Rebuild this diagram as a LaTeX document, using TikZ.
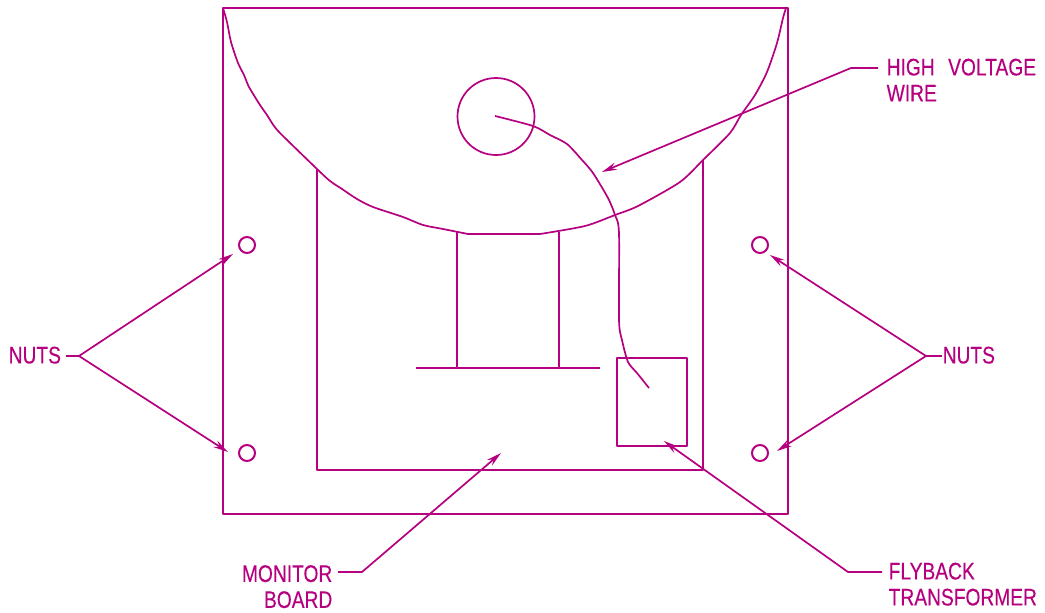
\documentclass[tikz,border=0pt]{standalone}
\usepackage{fontspec}
\setmainfont[FakeStretch=0.8,FakeBold=0.25]{Liberation Sans}
\usetikzlibrary{arrows.meta}
\definecolor{ink}{RGB}{181,0,127}
\tikzset{
  x=1pt,y=-1pt,
  stroke/.style={draw=ink,line width=2pt,line join=round},
  fine/.style={draw=ink,line width=1.7pt,line join=round},
  lbl/.style={inner sep=0pt,text=ink,font=\fontsize{24}{26}\selectfont},
  boxn/.style={stroke,inner sep=0pt,outer sep=0pt,anchor=north west},
  nut/.style={circle,stroke,minimum size=16pt,inner sep=0pt},
  big/.style={circle,fine,minimum size=77pt,inner sep=0pt},
  ptr/.style={fine,-{Stealth[length=15pt,width=7.500pt,inset=5pt]}},
}
\begin{document}
\begin{tikzpicture}
\useasboundingbox (0,0) rectangle (1045,613);
% housing
\node[boxn,minimum width=565pt,minimum height=506pt] (case) at (223,8) {};
% board
\draw[stroke] (317,169) -- (317,470) -- (703,470) -- (703,160);
% tube face
\draw[fine] plot[smooth,tension=0.45] coordinates {(223,8) (227,22) (231,42) (238,63) (244,75) (249,87) (260,105) (267,115) (274,126) (282,135) (317,169) (330,181) (342,189) (357,199) (373,207) (403,217) (423,225) (443,229) (468,234)} -- (540,234) -- plot[smooth,tension=0.45] coordinates {(540,234) (585,226) (615,215) (638,206) (680,182) (703,160) (730,133) (741,115) (755,95) (767,72) (777,43) (783,18) (786,8)};
% neck
\draw[stroke] (457,232) -- (457,368);
\draw[stroke] (559,232) -- (559,368);
\draw[stroke] (416,368) -- (600,368);
% flyback
\node[boxn,minimum width=70pt,minimum height=88pt] (fly) at (617,358) {};
% anode
\node[big] (anode) at (496,116.500) {};
% wire
\draw[fine] plot[smooth,tension=0.45] coordinates {(495,116) (533,126) (550,135) (567,144) (582,160) (593,173) (608,198) (615,215) (619,233) (619,320) (622,340) (628,362) (637,373) (649,388)};
% nuts
\node[nut] (n1) at (247,245) {};
\node[nut] (n2) at (247,453) {};
\node[nut] (n3) at (760,245) {};
\node[nut] (n4) at (760,453) {};
% labels
\node[lbl,anchor=north west] (lnuts) at (8.500,346.500) {NUTS};
\node[lbl,anchor=north west] (rnuts) at (942.500,346.500) {NUTS};
\node[lbl,anchor=north west,align=left] (hv) at (886.500,58.500) {HIGH\hspace{13.500pt}VOLTAGE\\WIRE};
\node[lbl,anchor=north east,align=right] (mb) at (332.500,565) {MONITOR\\BOARD};
\node[lbl,anchor=north west,align=left] (fb) at (888.500,562.500) {FLYBACK\\TRANSFORMER};
% leader junctions and targets
\coordinate (jl) at (79,356);
\coordinate (jr) at (926,356);
\coordinate (jh) at (851,68);
\coordinate (jm) at (362,572);
\coordinate (jf) at (848,572);
\coordinate (th) at (602,172);
\coordinate (tm) at (501,453);
\coordinate (tf) at (664,441);
\coordinate (t1) at (233,254);
\coordinate (t2) at (228,452);
\coordinate (t3) at (770,255);
\coordinate (t4) at (777,451);
\draw[fine] (66,356) -- (jl);
\draw[fine] (942,356) -- (jr);
\draw[ptr] (jl) -- (t1);
\draw[ptr] (jl) -- (t2);
\draw[ptr] (jr) -- (t3);
\draw[ptr] (jr) -- (t4);
\draw[ptr] (878,68) -- (jh) -- (th);
\draw[ptr] (338,572) -- (jm) -- (tm);
\draw[ptr] (882,572) -- (jf) -- (tf);
\end{tikzpicture}
\end{document}
